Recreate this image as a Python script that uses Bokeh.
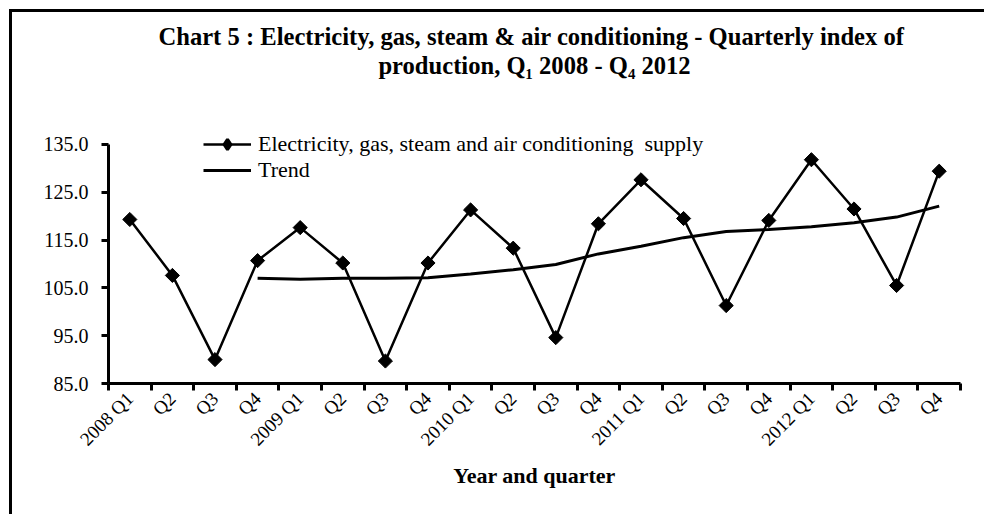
import numpy as np
from bokeh.plotting import figure
from bokeh.models import (Range1d, FixedTicker, Legend, LegendItem, PrintfTickFormatter, Title)
from bokeh.embed import file_html
from bokeh.resources import INLINE

# ---- data ----
quarters = ["2008 Q1", "Q2", "Q3", "Q4",
            "2009 Q1", "Q2", "Q3", "Q4",
            "2010 Q1", "Q2", "Q3", "Q4",
            "2011 Q1", "Q2", "Q3", "Q4",
            "2012 Q1", "Q2", "Q3", "Q4"]
supply = [119.3, 107.6, 90.0, 110.7,
          117.6, 110.2, 89.7, 110.2,
          121.3, 113.3, 94.6, 118.4,
          127.6, 119.5, 101.3, 119.1,
          131.8, 121.5, 105.5, 129.4]
trend = [np.nan, np.nan, np.nan, 107.0,
         106.8, 107.0, 107.0, 107.1,
         107.9, 108.8, 109.9, 112.1,
         113.7, 115.5, 116.8, 117.2,
         117.8, 118.6, 119.8, 122.1]
y_ticks = [85, 95, 105, 115, 125, 135]
series_label = "Electricity, gas, steam and air conditioning  supply"
trend_label = "Trend"
title_line1 = "Chart 5 : Electricity, gas, steam & air conditioning  - Quarterly index of"
title_line2 = "production, Q\u2081 2008 - Q\u2084 2012"
x_title = "Year and quarter"

FONT = "Liberation Serif"

n = len(quarters)
xc = np.arange(n) + 0.5          # category centres
bounds = list(range(n + 1))     # category boundaries
Y_TOP = 140                      # headroom above the last tick for the legend

p = figure(width=975, height=505, output_backend="svg", toolbar_location=None,
           x_range=Range1d(0, n), y_range=Range1d(min(y_ticks), Y_TOP),
           min_border_left=96, min_border_right=27, min_border_top=108, min_border_bottom=134,
           title=None)
p.styles = {"margin-left": "9px", "margin-top": "9px",
            "border-left": "3px solid black", "border-top": "3px solid black"}

# spacer between the plotting area and the two title lines, then the lines themselves
p.add_layout(Title(text=" ", text_font_size="1px", standoff=39), "above")
p.add_layout(Title(text=title_line2, align="center", text_font=FONT, text_font_size="24.6px",
                   text_font_style="bold", text_color="black", standoff=0), "above")
p.add_layout(Title(text=title_line1, align="center", text_font=FONT, text_font_size="24.6px",
                   text_font_style="bold", text_color="black", standoff=0), "above")

p.outline_line_color = None
p.xgrid.visible = False
p.ygrid.visible = False
p.background_fill_color = "white"
p.border_fill_color = "white"

# x axis
xa = p.xaxis[0]
xa.ticker = FixedTicker(ticks=list(xc), minor_ticks=bounds)
xa.major_label_overrides = {float(x): lab for x, lab in zip(xc, quarters)}
xa.major_label_orientation = np.pi / 4
xa.major_tick_out = 0
xa.major_tick_in = 0
xa.minor_tick_out = 7
xa.minor_tick_in = 0
xa.minor_tick_line_width = 3
xa.minor_tick_line_color = "black"
xa.axis_line_width = 3
xa.axis_line_color = "black"
xa.major_label_text_font = FONT
xa.major_label_text_font_size = "19px"
xa.major_label_text_color = "black"
xa.major_label_standoff = 5
xa.axis_label = x_title
xa.axis_label_text_font = FONT
xa.axis_label_text_font_size = "22px"
xa.axis_label_text_font_style = "bold"
xa.axis_label_text_color = "black"
xa.axis_label_standoff = 3

# y axis
ya = p.yaxis[0]
ya.ticker = FixedTicker(ticks=y_ticks)
ya.bounds = (min(y_ticks), max(y_ticks))
ya.formatter = PrintfTickFormatter(format="%.1f")
ya.major_tick_out = 7
ya.major_tick_in = 0
ya.major_tick_line_width = 3
ya.minor_tick_out = 0
ya.minor_tick_in = 0
ya.axis_line_width = 3
ya.axis_line_color = "black"
ya.major_label_text_font = FONT
ya.major_label_text_font_size = "20px"
ya.major_label_text_color = "black"
ya.major_label_standoff = 13

# series
l1 = p.line(xc, supply, line_color="black", line_width=2.5)
s1 = p.scatter(xc, supply, marker="square", angle=np.pi / 4, size=10, color="black")
l2 = p.line(xc, trend, line_color="black", line_width=3)
# legend swatch marker (diamond), not drawn in the plot itself
s_leg = p.scatter(xc, supply, marker="diamond", size=12, color="black", line_width=3,
                  visible=False)

legend = Legend(items=[LegendItem(label=series_label, renderers=[l1, s_leg]),
                       LegendItem(label=trend_label, renderers=[l2])],
                location=(95, 200), orientation="vertical",
                background_fill_alpha=0, border_line_color=None,
                inactive_fill_alpha=0,
                padding=0, margin=0, spacing=0,
                glyph_width=48, glyph_height=26, label_height=20,
                label_standoff=7,
                label_text_font=FONT, label_text_font_size="22px",
                label_text_color="black")
p.add_layout(legend)

open("out.html", "w").write(file_html(p, INLINE))
